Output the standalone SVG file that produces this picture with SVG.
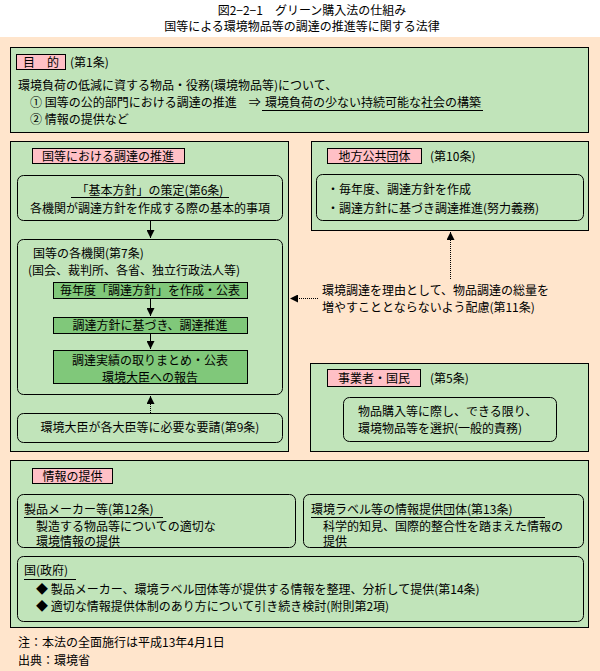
<svg xmlns="http://www.w3.org/2000/svg" width="600" height="671" viewBox="0 0 600 671">
<style>
text{font-family:"Noto Sans CJK JP","Noto Sans CJK SC",sans-serif;font-size:12px;fill:#000}
.sec{fill:#C1E4BA;stroke:#000;stroke-width:1}
.rb{fill:#C1E4BA;stroke:#000;stroke-width:1}
.lab{fill:#FFC0C6;stroke:#000;stroke-width:1}
.dg{fill:#80C87A;stroke:#000;stroke-width:1}
.ul{stroke:#000;stroke-width:1}
.c{text-anchor:middle}
.conn{stroke:#000;stroke-width:1;fill:none}
.dot{stroke-dasharray:1 1}
</style>
<defs>
<marker id="ah" viewBox="0 0 8 8" refX="8" refY="4" markerWidth="8" markerHeight="8" markerUnits="userSpaceOnUse" orient="auto"><path d="M0,0 L8,4 L0,8 z" fill="#000"/></marker>
</defs>
<rect x="0" y="0" width="600" height="671" fill="#FFFFFF"/>
<rect x="0" y="37" width="600" height="634" fill="#FFE5CC"/>
<g id="title">
<text class="c" x="312" y="15">図2−2−1　グリーン購入法の仕組み</text>
<text class="c" x="302" y="31">国等による環境物品等の調達の推進等に関する法律</text>
</g>
<g id="purpose">
<rect class="sec" x="10.5" y="47.5" width="578" height="85"/>
<rect class="lab" x="16.5" y="54.5" width="49" height="15"/>
<text class="c" x="41" y="66.5">目　的</text>
<text x="70" y="66.5">(第1条)</text>
<text x="18" y="89.5">環境負荷の低減に資する物品・役務(環境物品等)について、</text>
<text x="30" y="106.5">① 国等の公的部門における調達の推進　⇒</text>
<text x="265" y="106.5">環境負荷の少ない持続可能な社会の構築</text>
<line class="ul" x1="262" y1="110.5" x2="483" y2="110.5"/>
<text x="30" y="124">② 情報の提供など</text>
</g>
<g id="national">
<rect class="sec" x="10.5" y="141.5" width="278" height="310"/>
<rect class="lab" x="32.5" y="148.5" width="152" height="15"/>
<text class="c" x="108" y="160.5">国等における調達の推進</text>
</g>
<g id="basic-policy">
<rect class="rb" x="17.5" y="175.5" width="265" height="45" rx="6"/>
<text class="c" x="150" y="194.5">「基本方針」の策定(第6条)</text>
<line class="ul" x1="71" y1="197.5" x2="229" y2="197.5"/>
<text class="c" x="150" y="212.5">各機関が調達方針を作成する際の基本的事項</text>
</g>
<g id="agencies">
<rect class="rb" x="17.5" y="239.5" width="265" height="155" rx="6"/>
<text x="33" y="257.5">国等の各機関(第7条)</text>
<text x="28" y="274.5">(国会、裁判所、各省、独立行政法人等)</text>
</g>
<g id="step1">
<rect class="dg" x="53.5" y="282.5" width="194" height="16"/>
<text class="c" x="150" y="295">毎年度「調達方針」を作成・公表</text>
</g>
<g id="step2">
<rect class="dg" x="53.5" y="317.5" width="194" height="16"/>
<text class="c" x="150" y="330">調達方針に基づき、調達推進</text>
</g>
<g id="step3">
<rect class="dg" x="53.5" y="350.5" width="194" height="33"/>
<text class="c" x="150" y="364.5">調達実績の取りまとめ・公表</text>
<text class="c" x="150" y="381.5">環境大臣への報告</text>
</g>
<g id="minister-request">
<rect class="rb" x="17.5" y="413.5" width="265" height="29" rx="6"/>
<text class="c" x="150" y="432">環境大臣が各大臣等に必要な要請(第9条)</text>
</g>
<g id="local-gov">
<rect class="sec" x="311.5" y="141.5" width="277" height="89"/>
<rect class="lab" x="327.5" y="148.5" width="94" height="15"/>
<text class="c" x="374.5" y="160.5">地方公共団体</text>
<text x="430" y="160.5">(第10条)</text>
<rect class="rb" x="316.5" y="174.5" width="267" height="46" rx="6"/>
<text x="327" y="193.5">・毎年度、調達方針を作成</text>
<text x="327" y="212.5">・調達方針に基づき調達推進(努力義務)</text>
</g>
<g id="note-art11">
<text x="322" y="294.5">環境調達を理由として、物品調達の総量を</text>
<text x="322" y="311.5">増やすこととならないよう配慮(第11条)</text>
</g>
<g id="business-citizens">
<rect class="sec" x="310.5" y="363.5" width="278" height="88"/>
<rect class="lab" x="327.5" y="369.5" width="93" height="17"/>
<text class="c" x="374" y="382.5">事業者・国民</text>
<text x="430" y="382.5">(第5条)</text>
<rect class="rb" x="343.5" y="397.5" width="213" height="44" rx="6"/>
<text x="358" y="415.5">物品購入等に際し、できる限り、</text>
<text x="358" y="432.5">環境物品等を選択(一般的責務)</text>
</g>
<g id="information">
<rect class="sec" x="10.5" y="460.5" width="578" height="167"/>
<rect class="lab" x="32.5" y="468.5" width="80" height="15"/>
<text class="c" x="72.5" y="480.5">情報の提供</text>
</g>
<g id="makers">
<rect class="rb" x="17.5" y="494.5" width="278" height="53" rx="6"/>
<text x="24" y="513.5">製品メーカー等(第12条)</text>
<line class="ul" x1="24" y1="517.5" x2="163" y2="517.5"/>
<text x="36" y="530.5">製造する物品等についての適切な</text>
<text x="36" y="546">環境情報の提供</text>
</g>
<g id="label-orgs">
<rect class="rb" x="303.5" y="494.5" width="280" height="53" rx="6"/>
<text x="311" y="513.5">環境ラベル等の情報提供団体(第13条)</text>
<line class="ul" x1="311" y1="517.5" x2="545" y2="517.5"/>
<text x="323" y="530.5">科学的知見、国際的整合性を踏まえた情報の</text>
<text x="323" y="546">提供</text>
</g>
<g id="government">
<rect class="rb" x="17.5" y="556.5" width="566" height="65" rx="6"/>
<text x="24" y="574.5">国(政府)</text>
<line class="ul" x1="24" y1="579.5" x2="76" y2="579.5"/>
<text x="36" y="594">◆ 製品メーカー、環境ラベル団体等が提供する情報を整理、分析して提供(第14条)</text>
<text x="36" y="611">◆ 適切な情報提供体制のあり方について引き続き検討(附則第2項)</text>
</g>
<g id="footnotes">
<text x="18" y="647">注：本法の全面施行は平成13年4月1日</text>
<text x="18" y="664.5">出典：環境省</text>
</g>
<g id="connectors">
<path class="conn" d="M150.5,221 V238" marker-end="url(#ah)"/>
<path class="conn" d="M150.5,299 V316" marker-end="url(#ah)"/>
<path class="conn" d="M150.5,334 V349" marker-end="url(#ah)"/>
<path class="conn dot" d="M150.5,413 V396" marker-end="url(#ah)"/>
<path class="conn dot" d="M450.5,279 V232" marker-end="url(#ah)"/>
<path class="conn dot" d="M318,298.5 H290" marker-end="url(#ah)"/>
</g>
</svg>
